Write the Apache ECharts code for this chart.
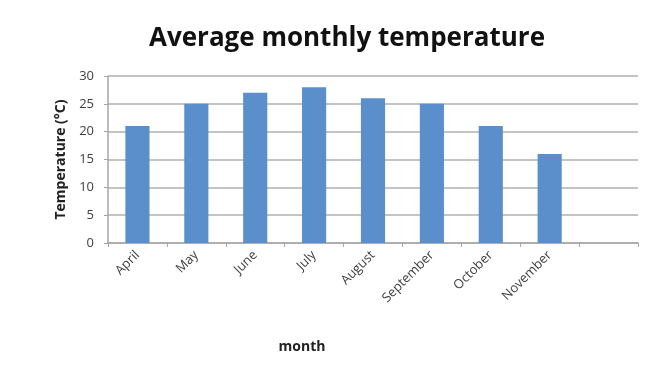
<!DOCTYPE html>
<html><head><meta charset="utf-8">
<script src="https://cdn.jsdelivr.net/npm/echarts@6/dist/echarts.min.js"></script>
<style>html,body{margin:0;padding:0;background:#fff}#c{width:672px;height:369px}</style>
</head><body><div id="c"></div>
<script>
const months = ['April','May','June','July','August','September','October','November',''];
const temperatures = [21,25,27,28,26,25,21,16,null];
const yTicks = {min:0,max:30,interval:5};
const chart = echarts.init(document.getElementById('c'));
chart.setOption({
  animation:false,
  title:[{text:'Average monthly temperature',left:342,top:21,textAlign:'center',
    textStyle:{fontFamily:'Open Sans',fontWeight:'bold',fontSize:26,color:'#111'}},
    {text:'month',left:297,top:335,textAlign:'center',
    textStyle:{fontFamily:'Open Sans',fontWeight:'bold',fontSize:14,color:'#222'}}],
  grid:{left:108,right:34,top:76,bottom:126},
  xAxis:{type:'category',data:months,
    axisLine:{lineStyle:{color:'#a6a6a6',width:1.5}},
    axisTick:{show:true,interval:0,length:4,lineStyle:{color:'#a6a6a6'}},
    axisLabel:{interval:0,rotate:45,fontFamily:'Open Sans',fontSize:13,color:'#404040',margin:10}},
  yAxis:{type:'value',min:yTicks.min,max:yTicks.max,interval:yTicks.interval,
    name:'Temperature (°C)',nameLocation:'middle',nameGap:40,
    nameTextStyle:{fontFamily:'Open Sans',fontWeight:'bold',fontSize:14,color:'#222'},
    axisLine:{show:true,lineStyle:{color:'#a6a6a6',width:1.5}},
    axisTick:{show:true,length:4,lineStyle:{color:'#a6a6a6'}},
    axisLabel:{fontFamily:'Open Sans',fontSize:13,color:'#404040',margin:14},
    splitLine:{lineStyle:{color:'#c4c4c4',width:2}}},
  series:[{type:'bar',data:temperatures,barWidth:'41%',
    itemStyle:{color:'#5b8fcc'}}]
});
</script></body></html>
